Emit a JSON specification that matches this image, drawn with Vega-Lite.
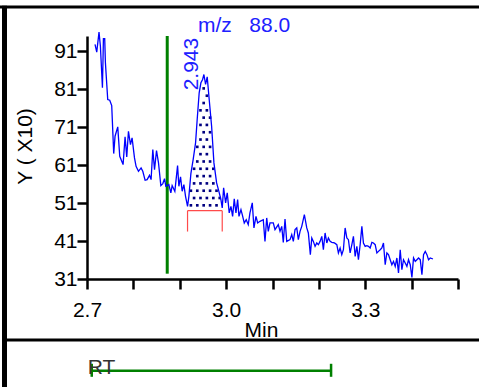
{
  "$schema": "https://vega.github.io/schema/vega-lite/v6.json",
  "width": 371,
  "height": 243,
  "autosize": {"type": "none"},
  "padding": {"left": 87, "top": 36, "right": 21, "bottom": 108},
  "background": "#ffffff",
  "config": {"view": {"stroke": null}, "font": "Liberation Sans", "axis": {"grid": false}},
  "datasets": {
    "signal": [
      {"t":2.7173,"v":92.77},{"t":2.7210,"v":90.74},{"t":2.7259,"v":96.01},{"t":2.7289,"v":92.32},{"t":2.7333,"v":81.36},{"t":2.7354,"v":94.27},{"t":2.7382,"v":94.27},{"t":2.7397,"v":87.95},{"t":2.7447,"v":78.27},{"t":2.7490,"v":78.09},{"t":2.7533,"v":76.69},{"t":2.7576,"v":64.03},{"t":2.7605,"v":68.60},{"t":2.7663,"v":71.07},{"t":2.7706,"v":63.32},{"t":2.7778,"v":61.13},{"t":2.7821,"v":68.44},{"t":2.7857,"v":63.16},{"t":2.7894,"v":69.91},{"t":2.7937,"v":66.41},{"t":2.7972,"v":68.17},{"t":2.8024,"v":62.90},{"t":2.8058,"v":60.69},{"t":2.8110,"v":59.37},{"t":2.8166,"v":60.26},{"t":2.8203,"v":59.37},{"t":2.8253,"v":57.00},{"t":2.8296,"v":57.18},{"t":2.8348,"v":58.31},{"t":2.8382,"v":57.18},{"t":2.8419,"v":65.09},{"t":2.8456,"v":59.82},{"t":2.8499,"v":64.83},{"t":2.8542,"v":61.58},{"t":2.8592,"v":55.60},{"t":2.8635,"v":56.13},{"t":2.8672,"v":57.44},{"t":2.8700,"v":55.41},{"t":2.8765,"v":55.86},{"t":2.8808,"v":53.67},{"t":2.8836,"v":55.60},{"t":2.8894,"v":54.10},{"t":2.8953,"v":60.87},{"t":2.8981,"v":55.41},{"t":2.9017,"v":57.89},{"t":2.9052,"v":54.10},{"t":2.9089,"v":55.86},{"t":2.9125,"v":52.78},{"t":2.9168,"v":50.14},{"t":2.9197,"v":52.78},{"t":2.9240,"v":58.76},{"t":2.9289,"v":62.45},{"t":2.9341,"v":66.86},{"t":2.9376,"v":73.00},{"t":2.9419,"v":80.04},{"t":2.9456,"v":82.67},{"t":2.9493,"v":83.54},{"t":2.9521,"v":84.86},{"t":2.9557,"v":82.23},{"t":2.9592,"v":84.26},{"t":2.9635,"v":78.27},{"t":2.9687,"v":71.23},{"t":2.9737,"v":61.58},{"t":2.9795,"v":56.31},{"t":2.9844,"v":54.10},{"t":2.9888,"v":51.91},{"t":2.9916,"v":49.72},{"t":2.9946,"v":54.99},{"t":2.9989,"v":51.04},{"t":3.0024,"v":53.67},{"t":3.0067,"v":48.40},{"t":3.0104,"v":50.14},{"t":3.0140,"v":47.50},{"t":3.0175,"v":52.09},{"t":3.0212,"v":48.40},{"t":3.0248,"v":51.91},{"t":3.0277,"v":47.50},{"t":3.0320,"v":49.27},{"t":3.0348,"v":47.95},{"t":3.0391,"v":45.76},{"t":3.0434,"v":46.63},{"t":3.0477,"v":45.32},
      {"t":3.0514,"v":48.40},{"t":3.0564,"v":51.04},{"t":3.0600,"v":44.45},{"t":3.0644,"v":47.50},{"t":3.0680,"v":45.76},{"t":3.0730,"v":46.19},{"t":3.0801,"v":46.63},{"t":3.0838,"v":40.91},{"t":3.0875,"v":47.08},{"t":3.0909,"v":43.55},{"t":3.0946,"v":45.76},{"t":3.1017,"v":45.76},{"t":3.1054,"v":44.00},{"t":3.1125,"v":45.32},{"t":3.1162,"v":43.55},{"t":3.1199,"v":44.87},{"t":3.1233,"v":40.65},{"t":3.1270,"v":46.82},{"t":3.1307,"v":40.91},{"t":3.1378,"v":41.36},{"t":3.1415,"v":42.68},{"t":3.1449,"v":40.91},{"t":3.1486,"v":44.00},{"t":3.1523,"v":44.45},{"t":3.1557,"v":41.36},{"t":3.1594,"v":43.55},{"t":3.1631,"v":44.87},{"t":3.1687,"v":47.95},{"t":3.1739,"v":44.45},{"t":3.1773,"v":43.13},{"t":3.1816,"v":37.41},{"t":3.1847,"v":41.81},{"t":3.1881,"v":40.91},{"t":3.1918,"v":39.59},{"t":3.1955,"v":40.49},{"t":3.1989,"v":40.04},{"t":3.2026,"v":40.91},{"t":3.2063,"v":42.23},{"t":3.2097,"v":38.72},{"t":3.2134,"v":43.13},{"t":3.2171,"v":40.49},{"t":3.2205,"v":41.81},{"t":3.2242,"v":40.91},{"t":3.2279,"v":40.65},{"t":3.2335,"v":40.49},{"t":3.2387,"v":40.04},{"t":3.2421,"v":37.85},{"t":3.2458,"v":39.17},{"t":3.2494,"v":37.41},{"t":3.2529,"v":38.72},{"t":3.2566,"v":44.45},
      {"t":3.2603,"v":41.81},{"t":3.2637,"v":41.36},{"t":3.2674,"v":37.85},{"t":3.2711,"v":40.04},{"t":3.2745,"v":42.23},{"t":3.2782,"v":36.96},{"t":3.2819,"v":39.59},{"t":3.2853,"v":36.09},{"t":3.2890,"v":40.04},{"t":3.2927,"v":44.87},{"t":3.2961,"v":40.49},{"t":3.2998,"v":39.59},{"t":3.3035,"v":39.78},{"t":3.3069,"v":39.59},{"t":3.3106,"v":39.17},{"t":3.3143,"v":40.65},{"t":3.3177,"v":40.49},{"t":3.3214,"v":40.04},{"t":3.3251,"v":37.85},{"t":3.3285,"v":38.28},{"t":3.3322,"v":38.72},{"t":3.3358,"v":39.17},{"t":3.3393,"v":40.49},{"t":3.3430,"v":34.77},{"t":3.3466,"v":37.85},{"t":3.3501,"v":37.41},{"t":3.3538,"v":36.09},{"t":3.3574,"v":34.77},{"t":3.3609,"v":35.64},{"t":3.3646,"v":34.32},{"t":3.3682,"v":36.54},{"t":3.3717,"v":32.58},{"t":3.3754,"v":38.72},{"t":3.3790,"v":33.45},{"t":3.3825,"v":36.09},{"t":3.3862,"v":35.22},{"t":3.3898,"v":34.32},{"t":3.3933,"v":36.09},{"t":3.3970,"v":34.77},{"t":3.4006,"v":31.42},{"t":3.4041,"v":36.54},{"t":3.4078,"v":35.64},{"t":3.4114,"v":36.09},{"t":3.4149,"v":36.54},{"t":3.4186,"v":36.09},{"t":3.4222,"v":32.13},{"t":3.4257,"v":37.41},{"t":3.4294,"v":38.28},{"t":3.4330,"v":37.41},{"t":3.4365,"v":36.09},{"t":3.4402,"v":36.54},{"t":3.4460,"v":36.27}
    ],
    "dots": [
      {"t":2.9240,"v":50.40},{"t":2.9378,"v":50.40},{"t":2.9516,"v":50.40},{"t":2.9654,"v":50.40},{"t":2.9793,"v":50.40},
      {"t":2.9309,"v":52.33},{"t":2.9447,"v":52.33},{"t":2.9585,"v":52.33},{"t":2.9724,"v":52.33},{"t":2.9862,"v":52.33},
      {"t":2.9240,"v":54.25},{"t":2.9378,"v":54.25},{"t":2.9516,"v":54.25},{"t":2.9654,"v":54.25},{"t":2.9793,"v":54.25},
      {"t":2.9309,"v":56.18},{"t":2.9447,"v":56.18},{"t":2.9585,"v":56.18},{"t":2.9724,"v":56.18},
      {"t":2.9378,"v":58.10},{"t":2.9516,"v":58.10},{"t":2.9654,"v":58.10},
      {"t":2.9309,"v":60.03},{"t":2.9447,"v":60.03},{"t":2.9585,"v":60.03},{"t":2.9724,"v":60.03},
      {"t":2.9378,"v":61.95},{"t":2.9516,"v":61.95},{"t":2.9654,"v":61.95},
      {"t":2.9447,"v":63.88},{"t":2.9585,"v":63.88},
      {"t":2.9378,"v":65.80},{"t":2.9516,"v":65.80},{"t":2.9654,"v":65.80},
      {"t":2.9447,"v":67.73},{"t":2.9585,"v":67.73},
      {"t":2.9516,"v":69.65},{"t":2.9654,"v":69.65},
      {"t":2.9447,"v":71.58},{"t":2.9585,"v":71.58},
      {"t":2.9516,"v":73.50},{"t":2.9654,"v":73.50},
      {"t":2.9447,"v":75.42},{"t":2.9585,"v":75.42},
      {"t":2.9516,"v":77.35},
      {"t":2.9585,"v":79.27},
      {"t":2.9516,"v":81.20}
    ],
    "frameH": [
      {"t":2.5110,"t2":3.5500,"v":102.63},
      {"t":2.5221,"t2":3.5500,"v":14.93}
    ],
    "frameV": [
      {"t":2.5221,"v":103.0,"v2":1.5}
    ],
    "marker": [
      {"t":2.873,"v":95.0,"v2":32.4}
    ],
    "peakBase": [
      {"t":2.9168,"t2":2.9916,"v":49.0}
    ],
    "peakEdges": [
      {"t":2.9168,"v":49.0,"v2":43.5},
      {"t":2.9916,"v":49.0,"v2":43.5}
    ],
    "peakLabel": [
      {"t":2.943,"v":84.9,"label":"2.943"}
    ],
    "massLabel": [
      {"t":2.9394,"v":96.13,"label":"m/z\u00a0\u00a0\u00a088.0"}
    ],
    "rtBar": [
      {"t":2.7102,"t2":3.2263,"v":6.82}
    ],
    "rtEnds": [
      {"t":2.7102,"v":8.67,"v2":5.24},
      {"t":3.2263,"v":8.67,"v2":5.24}
    ],
    "rtLabel": [
      {"t":2.7016,"v":6.1,"label":"RT"}
    ]
  },
  "encoding": {
    "x": {
      "field": "t", "type": "quantitative", "title": "Min",
      "scale": {"domain": [2.7, 3.5], "nice": false, "zero": false},
      "axis": {
        "values": [2.7, 2.8, 2.9, 3.0, 3.1, 3.2, 3.3, 3.4, 3.5],
        "labelExpr": "indexof(['2.7','3.0','3.3'], format(datum.value, '.1f')) >= 0 ? format(datum.value, '.1f') : ''",
        "domainColor": "#000000", "domainWidth": 2.5,
        "tickColor": "#000000", "tickWidth": 2.5, "tickSize": 10,
        "labelFont": "Liberation Sans", "labelFontSize": 21, "labelColor": "#000000",
        "labelBaseline": "alphabetic", "labelPadding": 27, "labelFlush": false, "labelOverlap": false,
        "titleFont": "Liberation Sans", "titleFontSize": 21, "titleFontWeight": "normal", "titleColor": "#000000",
        "titleX": 174, "titleY": 57.5, "titleBaseline": "alphabetic", "titleAlign": "center"
      }
    },
    "y": {
      "field": "v", "type": "quantitative", "title": "Y ( X10)",
      "scale": {"domain": [31, 95], "nice": false, "zero": false},
      "axis": {
        "values": [31, 41, 51, 61, 71, 81, 91],
        "domainColor": "#000000", "domainWidth": 2.5,
        "tickColor": "#000000", "tickWidth": 2.5, "tickSize": 10,
        "labelFont": "Liberation Sans", "labelFontSize": 21, "labelColor": "#000000",
        "labelPadding": 0, "labelFlush": false, "labelOverlap": false,
        "titleFont": "Liberation Sans", "titleFontSize": 21, "titleFontWeight": "normal", "titleColor": "#000000",
        "titleX": -56, "titleY": 110, "titleAngle": 270, "titleBaseline": "alphabetic", "titleAlign": "center"
      }
    }
  },
  "layer": [
    {"data": {"name": "frameH"}, "mark": {"type": "rule", "color": "#000000", "strokeWidth": 3},
     "encoding": {"x2": {"field": "t2"}}},
    {"data": {"name": "frameV"}, "mark": {"type": "rule", "color": "#000000", "strokeWidth": 5},
     "encoding": {"y2": {"field": "v2"}}},
    {"data": {"name": "marker"}, "mark": {"type": "rule", "color": "#008000", "strokeWidth": 3},
     "encoding": {"y2": {"field": "v2"}}},
    {"data": {"name": "dots"}, "mark": {"type": "point", "shape": "square", "filled": true, "size": 7, "color": "#000080", "opacity": 1, "strokeWidth": 0},
     "encoding": {}},
    {"data": {"name": "signal"}, "mark": {"type": "line", "color": "#0000ff", "strokeWidth": 1.3},
     "encoding": {}},
    {"data": {"name": "peakBase"}, "mark": {"type": "rule", "color": "#ff4a4a", "strokeWidth": 1.2},
     "encoding": {"x2": {"field": "t2"}}},
    {"data": {"name": "peakEdges"}, "mark": {"type": "rule", "color": "#ff4a4a", "strokeWidth": 1.2},
     "encoding": {"y2": {"field": "v2"}}},
    {"data": {"name": "peakLabel"}, "mark": {"type": "text", "angle": 270, "align": "left", "baseline": "alphabetic", "dx": -16, "dy": -2, "font": "Liberation Sans", "fontSize": 21, "color": "#2020ff"},
     "encoding": {"text": {"field": "label"}}},
    {"data": {"name": "massLabel"}, "mark": {"type": "text", "align": "left", "baseline": "alphabetic", "font": "Liberation Sans", "fontSize": 21, "color": "#2020ff"},
     "encoding": {"text": {"field": "label"}}},
    {"data": {"name": "rtBar"}, "mark": {"type": "rule", "color": "#008000", "strokeWidth": 2.5},
     "encoding": {"x2": {"field": "t2"}}},
    {"data": {"name": "rtEnds"}, "mark": {"type": "rule", "color": "#008000", "strokeWidth": 2.5},
     "encoding": {"y2": {"field": "v2"}}},
    {"data": {"name": "rtLabel"}, "mark": {"type": "text", "align": "left", "baseline": "alphabetic", "font": "Liberation Sans", "fontSize": 21, "color": "#333333"},
     "encoding": {"text": {"field": "label"}}}
  ]
}
